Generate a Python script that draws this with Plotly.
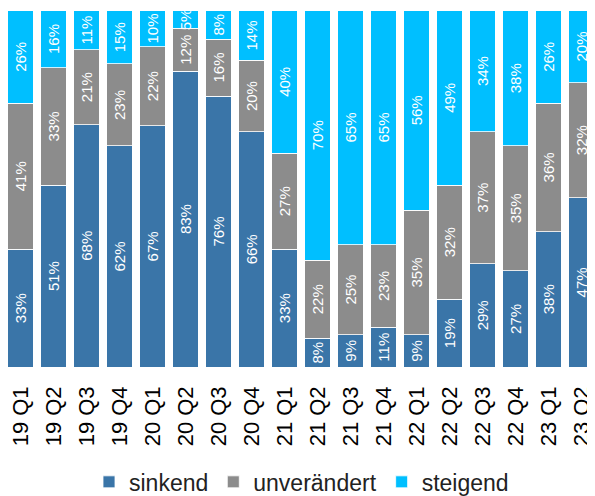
import plotly.graph_objects as go

categories = ["19 Q1", "19 Q2", "19 Q3", "19 Q4", "20 Q1", "20 Q2", "20 Q3", "20 Q4",
              "21 Q1", "21 Q2", "21 Q3", "21 Q4", "22 Q1", "22 Q2", "22 Q3", "22 Q4",
              "23 Q1", "23 Q2"]
sinkend = [33, 51, 68, 62, 67, 83, 76, 66, 33, 8, 9, 11, 9, 19, 29, 27, 38, 47]
unveraendert = [41, 33, 21, 23, 22, 12, 16, 20, 27, 22, 25, 23, 35, 32, 37, 35, 36, 32]
steigend = [26, 16, 11, 15, 10, 5, 8, 14, 40, 70, 65, 65, 56, 49, 34, 38, 26, 20]

series = [
    ("sinkend", sinkend, "#3A75A8"),
    ("unverändert", unveraendert, "#8C8C8C"),
    ("steigend", steigend, "#00BFFF"),
]

fig = go.Figure()
for name, vals, color in series:
    fig.add_trace(go.Bar(
        x=categories, y=vals, name=name,
        marker=dict(color=color, line=dict(color="rgba(255,255,255,0.8)", width=1)),
        text=[f"{v}%" for v in vals],
        textposition="inside", insidetextanchor="middle", textangle=-90,
        textfont=dict(color="white", size=15, family="Liberation Sans Narrow, Arial Narrow, Liberation Sans"),
        constraintext="none",
    ))

fig.update_layout(
    barmode="stack", barnorm="percent", bargap=0.24,
    width=587, height=496,
    margin=dict(l=0, r=0, t=0, b=137),
    paper_bgcolor="white", plot_bgcolor="white",
    uniformtext=dict(minsize=14, mode="show"),
    font=dict(family="Liberation Sans, Arial", color="black"),
    showlegend=True,
    legend=dict(orientation="h", x=0.5, xanchor="center", y=-0.32, yanchor="middle",
                font=dict(size=23, color="#222222"), traceorder="normal",
                itemwidth=30),
)
fig.update_xaxes(type="category", range=[-0.379, 17.41], tickangle=-90,
                 tickfont=dict(size=22, color="black"), showgrid=False,
                 showline=False, ticks="", ticklabelstandoff=14)
fig.update_yaxes(range=[0, 100.7], visible=False, showgrid=False)

fig.write_html("out.html")
